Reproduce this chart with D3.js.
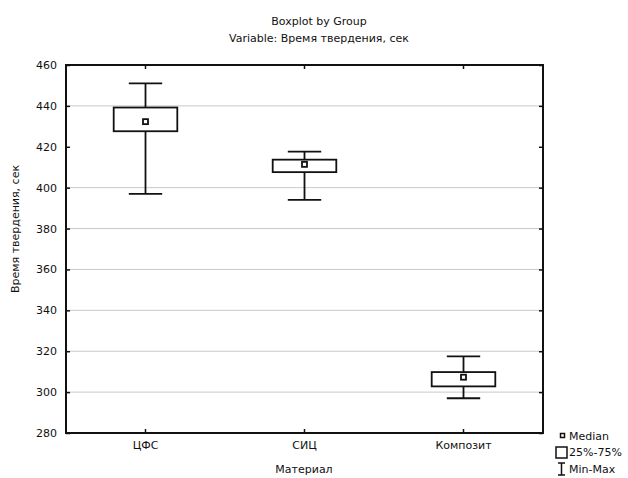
<!DOCTYPE html>
<html>
<head>
<meta charset="utf-8">
<script src="https://cdn.jsdelivr.net/npm/d3@7"></script>
<style>
  body { margin: 0; background: #fff; }
  text { font-family: "DejaVu Sans", sans-serif; fill: #111; }
</style>
</head>
<body>
<div id="chart-area"></div>
<script>
// data
const categories = ["ЦФС", "СИЦ", "Композит"];
const medians = [432.3, 411.4, 307.3];
const q1s = [427.6, 407.6, 302.8];
const q3s = [439.2, 413.7, 309.8];
const mins = [397, 394, 297];
const maxs = [451, 417.6, 317.5];
const yTicks = [280, 300, 320, 340, 360, 380, 400, 420, 440, 460];
const gridTicks = [300, 320, 340, 360, 380, 400, 440];
const legendLabels = ["Median", "25%-75%", "Min-Max"];

const svgWidth = 628, svgHeight = 478;
const margins = { top: 65, left: 66, right: 85, bottom: 45 };
const chartWidth = svgWidth - margins.left - margins.right;
const chartHeight = svgHeight - margins.top - margins.bottom;

const canvas = d3.select("#chart-area")
  .append("svg")
    .attr("width", svgWidth)
    .attr("height", svgHeight);

const chart = canvas.append("g")
  .attr("transform", `translate(${margins.left},${margins.top})`);

// Titles
canvas.append("text")
  .text("Boxplot by Group")
  .attr("x", 319).attr("y", 25)
  .attr("text-anchor", "middle")
  .attr("font-size", 11);
canvas.append("text")
  .text("Variable: Время твердения, сек")
  .attr("x", 319).attr("y", 42)
  .attr("text-anchor", "middle")
  .attr("font-size", 11);

const x = d3.scaleBand()
  .domain(categories)
  .range([0, chartWidth])
  .padding(0);

const y = d3.scaleLinear()
  .domain([280, 460])
  .range([chartHeight, 0]);

// grid
chart.selectAll(".grid")
  .data(gridTicks)
  .enter().append("line")
    .attr("x1", 0).attr("x2", chartWidth)
    .attr("y1", d => y(d)).attr("y2", d => y(d))
    .attr("stroke", "#c8c8c8")
    .attr("stroke-width", 1);

// axes
const yAxis = chart.append("g")
  .call(d3.axisLeft(y).tickValues(yTicks).tickSize(-4).tickPadding(9));
const yAxisR = chart.append("g")
  .attr("transform", `translate(${chartWidth},0)`)
  .call(d3.axisRight(y).tickValues(yTicks).tickSize(-4).tickFormat(""));
const xAxis = chart.append("g")
  .attr("transform", `translate(0,${chartHeight})`)
  .call(d3.axisBottom(x).tickSize(-4).tickPadding(8));
const xAxisT = chart.append("g")
  .call(d3.axisTop(x).tickSize(-4).tickFormat(""));

[yAxis, yAxisR, xAxis, xAxisT].forEach(a => {
  a.select(".domain").remove();
  a.selectAll("line").attr("stroke", "#111").attr("stroke-width", 1.5);
  a.selectAll("text")
    .attr("font-family", "DejaVu Sans")
    .attr("font-size", 11)
    .attr("fill", "#111");
});

// frame
chart.append("rect")
  .attr("width", chartWidth)
  .attr("height", chartHeight)
  .attr("fill", "none")
  .attr("stroke", "#111")
  .attr("stroke-width", 2);

// boxes
const boxW = x.bandwidth() * 0.4;
const capW = x.bandwidth() * 0.21;
const groups = chart.selectAll(".box")
  .data(categories)
  .enter().append("g")
    .attr("transform", d => `translate(${x(d) + x.bandwidth() / 2},0)`);

groups.append("line")
  .attr("x1", 0).attr("x2", 0)
  .attr("y1", (d, i) => y(maxs[i])).attr("y2", (d, i) => y(q3s[i]));
groups.append("line")
  .attr("x1", 0).attr("x2", 0)
  .attr("y1", (d, i) => y(q1s[i])).attr("y2", (d, i) => y(mins[i]));
groups.append("line")
  .attr("x1", -capW / 2).attr("x2", capW / 2)
  .attr("y1", (d, i) => y(maxs[i])).attr("y2", (d, i) => y(maxs[i]));
groups.append("line")
  .attr("x1", -capW / 2).attr("x2", capW / 2)
  .attr("y1", (d, i) => y(mins[i])).attr("y2", (d, i) => y(mins[i]));
groups.append("rect")
  .attr("x", -boxW / 2)
  .attr("width", boxW)
  .attr("y", (d, i) => y(q3s[i]))
  .attr("height", (d, i) => y(q1s[i]) - y(q3s[i]))
  .attr("fill", "#fff");
groups.append("rect")
  .attr("x", -2.5).attr("width", 5)
  .attr("y", (d, i) => y(medians[i]) - 2.5).attr("height", 5)
  .attr("fill", "#fff");
groups.selectAll("line, rect")
  .attr("stroke", "#111")
  .attr("stroke-width", 1.8);

// axis titles
canvas.append("text")
  .text("Время твердения, сек")
  .attr("transform", "translate(19,229) rotate(-90)")
  .attr("text-anchor", "middle")
  .attr("font-size", 11);
canvas.append("text")
  .text("Материал")
  .attr("x", 304).attr("y", 473)
  .attr("text-anchor", "middle")
  .attr("font-size", 11);

// legend
const legend = canvas.append("g").attr("transform", "translate(556,0)");
legend.append("rect")
  .attr("x", 4.5).attr("y", 433.5).attr("width", 4).attr("height", 4)
  .attr("fill", "#fff").attr("stroke", "#111").attr("stroke-width", 1.5);
legend.append("rect")
  .attr("x", 0).attr("y", 447).attr("width", 11).attr("height", 11)
  .attr("fill", "#fff").attr("stroke", "#111").attr("stroke-width", 1.5);
legend.append("path")
  .attr("d", "M2,463H9M5.5,463V475M2,475H9")
  .attr("fill", "none").attr("stroke", "#111").attr("stroke-width", 1.5);
legend.selectAll(".lt")
  .data(legendLabels)
  .enter().append("text")
    .text(d => d)
    .attr("x", 13)
    .attr("y", (d, i) => 439.5 + i * 16.5)
    .attr("font-size", 11);
</script>
</body>
</html>
